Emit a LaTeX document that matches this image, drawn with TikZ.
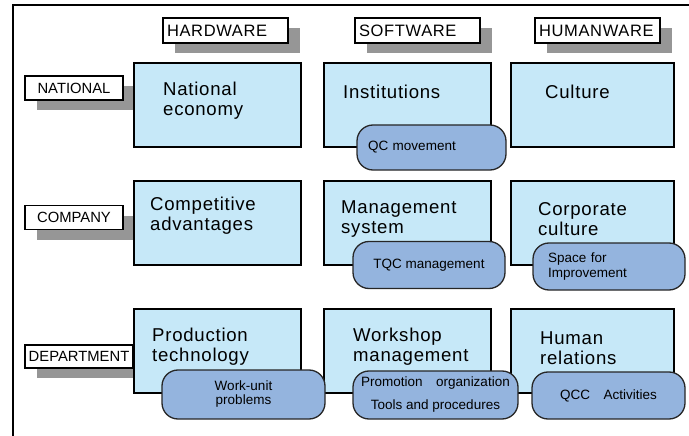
\documentclass[tikz,border=0pt]{standalone}
\usepackage{fontspec}
\setmainfont{Liberation Sans}
\newfontfamily\widefont[LetterSpace=4]{Liberation Sans}
\usetikzlibrary{shadows}

\definecolor{cellblue}{RGB}{198,232,248}
\definecolor{noteblue}{RGB}{148,180,222}
\definecolor{shadowgray}{RGB}{150,150,150}

\begin{document}
\begin{tikzpicture}[
    x=1pt, y=-1pt,
    boxshadow/.style={drop shadow={shadow xshift=12pt, shadow yshift=-10pt,
        fill=shadowgray, opacity=1}},
    header/.style={
        draw, line width=1.1pt, fill=white, boxshadow,
        text width=117pt, inner xsep=4pt, inner ysep=0pt,
        minimum height=25pt, align=left,
        font=\widefont\fontsize{16.5}{18}\selectfont
    },
    level/.style={
        draw, line width=1.1pt, fill=white, boxshadow,
        minimum width=98pt, minimum height=24pt, inner xsep=3pt, inner ysep=0pt,
        font=\fontsize{14.8}{16}\selectfont
    },
    cell/.style={
        draw, line width=2pt, fill=cellblue,
        minimum width=167pt, minimum height=84pt
    },
    celltext/.style={
        anchor=west, align=left, inner sep=0pt,
        font=\widefont\fontsize{18.6}{20}\selectfont
    },
    note/.style={
        draw=black!85, line width=1.3pt, fill=noteblue, rounded corners=16pt,
        minimum width=152pt, minimum height=47pt, align=center,
        font=\fontsize{13.5}{15}\selectfont
    },
]
    \useasboundingbox (0,0) rectangle (689,436);

    % Column x-coordinates (cell centres).
    \def\xHard{217}
    \def\xSoft{407}
    \def\xHuman{592}

    % Row y-coordinates (cell centres, y grows downwards).
    \def\yNat{105}
    \def\yComp{222.5}
    \def\yDept{351}

    % page frame
    \draw[line width=1.3pt] (13,436) -- (13,5) -- (689,5);

    % ---------- column headers ----------
    \node[header] (hardware) at (225.5,30.5) {HARDWARE};
    \node[header] (software) at (417.5,30.5) {SOFTWARE};
    \node[header] (humanware) at (597.5,30.5) {HUMANWARE};

    % ---------- row labels ----------
    \node[level] (national) at (74,88) {NATIONAL};
    \node[level] (company) at (74,217.5) {COMPANY};
    \node[level, minimum width=108pt, minimum height=23pt] (department) at (79,356.5) {DEPARTMENT};

    % ---------- cells ----------
    \node[cell] (nat-hard) at (\xHard,\yNat) {};
    \node[cell] (nat-soft) at (\xSoft,\yNat) {};
    \node[cell, minimum width=163pt] (nat-human) at (\xHuman,\yNat) {};

    \node[cell] (comp-hard) at (\xHard,\yComp) {};
    \node[cell] (comp-soft) at (\xSoft,\yComp) {};
    \node[cell, minimum width=163pt] (comp-human) at (\xHuman,\yComp) {};

    \node[cell] (dept-hard) at (\xHard,\yDept) {};
    \node[cell] (dept-soft) at (\xSoft,\yDept) {};
    \node[cell, minimum width=163pt] (dept-human) at (\xHuman,\yDept) {};

    % cell texts
    \node[celltext] (nat-hard-text) at (163,100.5) {National\\economy};
    \node[celltext] (nat-soft-text) at (343,91.5) {Institutions};
    \node[celltext] (nat-human-text) at (545,92) {Culture};

    \node[celltext] (comp-hard-text) at (150,216) {Competitive\\advantages};
    \node[celltext] (comp-soft-text) at (341,219) {Management\\system};
    \node[celltext] (comp-human-text) at (538,219) {Corporate\\culture};

    \node[celltext] (dept-hard-text) at (152,347) {Production\\technology};
    \node[celltext] (dept-soft-text) at (353,347) {Workshop\\management};
    \node[celltext] (dept-human-text) at (540,348) {Human\\relations};

    % ---------- notes on top of the cells ----------
    \node[note, minimum width=149pt, minimum height=45pt, text width=127pt,
        inner xsep=11pt, align=left] (qc) at (431.5,147.5) {QC movement};
    \node[note] (tqc) at (429,265) {TQC management};
    \node[note, text width=122pt, inner xsep=15pt, align=left,
        font=\fontsize{13.5}{15.5}\selectfont] (space) at (609,266.5) {Space for\\Improvement};

    \node[note, minimum width=163pt, minimum height=49pt,
        font=\fontsize{13.5}{14}\selectfont] (workunit) at (243.5,394.5) {Work-unit\\problems};
    \node[note, minimum width=165pt, minimum height=48pt, inner xsep=0pt,
        font=\fontsize{13.5}{23}\selectfont] (promotion) at (435.5,395) {Promotion\quad organization\\Tools and procedures};
    \node[note, minimum width=153pt] (qcc) at (608.5,395.5) {QCC\quad Activities};

\end{tikzpicture}
\end{document}
